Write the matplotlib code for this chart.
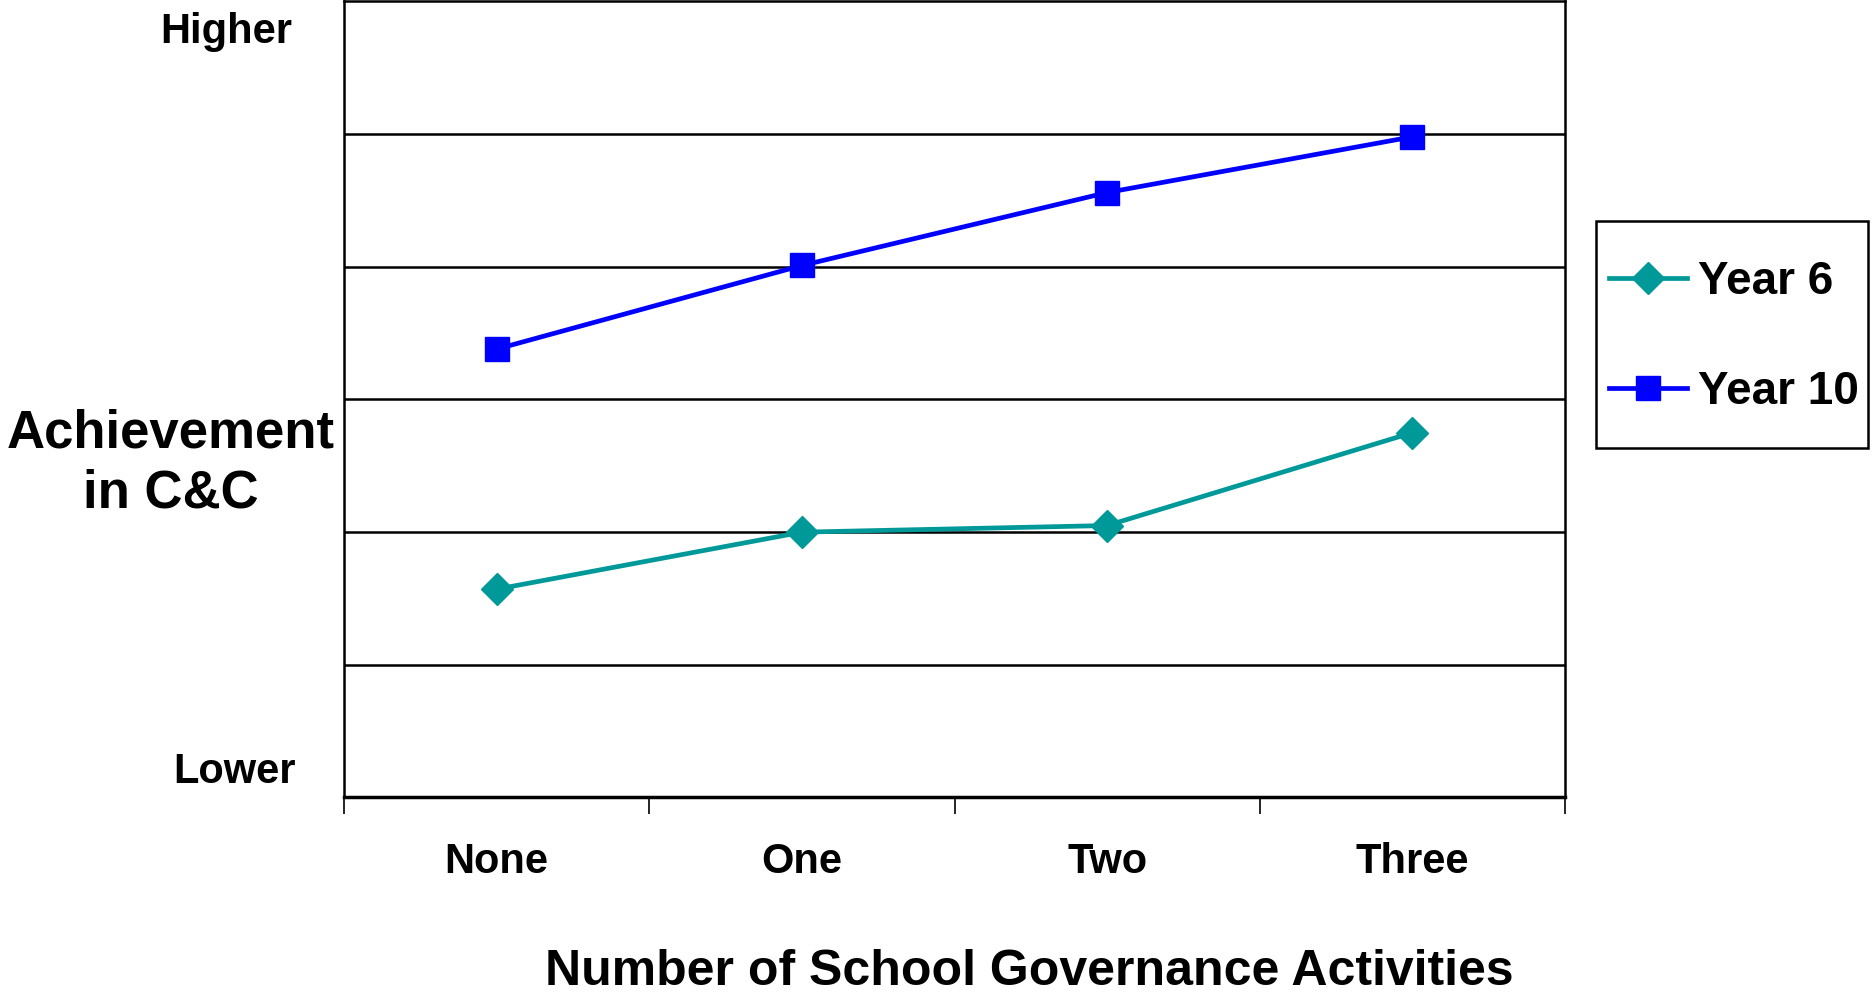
import matplotlib
matplotlib.use("Agg")
import matplotlib.pyplot as plt
from matplotlib.patches import Rectangle

categories = ["None", "One", "Two", "Three"]
year6 = [1.57, 2.00, 2.05, 2.75]
year10 = [3.38, 4.01, 4.56, 4.98]

plt.rcParams["font.family"] = ["Liberation Sans", "DejaVu Sans"]
plt.rcParams["font.weight"] = "bold"

fig = plt.figure(figsize=(18.72, 9.94), dpi=100)
ax = fig.add_axes([0.1838, 0.1977, 0.6522, 0.8008])

x = range(len(categories))
ax.plot(x, year6, color="#009999", lw=3.4, marker="D", markersize=16,
        label="Year 6")
ax.plot(x, year10, color="#0000FF", lw=3.4, marker="s", markersize=17,
        label="Year 10")

ax.set_xlim(-0.5, 3.5)
ax.set_ylim(0, 6)
ax.set_yticks([1, 2, 3, 4, 5])
ax.yaxis.grid(True, color="black", lw=1.8)
ax.tick_params(axis="y", left=False, labelleft=False)
ax.set_xticks([-0.5, 0.5, 1.5, 2.5, 3.5])
ax.set_xticklabels([])
ax.set_xticks(list(x), minor=True)
ax.set_xticklabels(categories, minor=True, fontsize=30, fontweight="bold")
ax.tick_params(axis="x", which="major", length=12, width=1.2, color="black")
ax.tick_params(axis="x", which="minor", length=0, pad=32)
for s in ax.spines.values():
    s.set_linewidth(1.8)
ax.spines["bottom"].set_linewidth(2.5)

ax.set_xlabel("Number of School Governance Activities", fontsize=36,
              fontweight="bold")
ax.xaxis.set_label_coords(0.561, -0.19)

fig.text(0.156, 0.968, "Higher", ha="right", va="center", fontsize=30,
         fontweight="bold")
fig.text(0.158, 0.223, "Lower", ha="right", va="center", fontsize=30,
         fontweight="bold")
fig.text(0.091, 0.534, "Achievement\nin C&C", ha="center", va="center",
         fontsize=38, fontweight="bold", linespacing=1.25)

# legend box drawn separately so its padding matches the original
fig.patches.append(Rectangle((0.8526, 0.5493), 0.1453, 0.2284,
                             transform=fig.transFigure, fill=False,
                             edgecolor="black", lw=1.8))
ax.legend(loc="center left", bbox_to_anchor=(0.8597, 0.661),
          bbox_transform=fig.transFigure, frameon=False,
          handlelength=1.7, labelspacing=1.45, borderpad=0,
          borderaxespad=0, handletextpad=0.23,
          prop={"weight": "bold", "size": 33})

fig.savefig("out.png", dpi=100)
